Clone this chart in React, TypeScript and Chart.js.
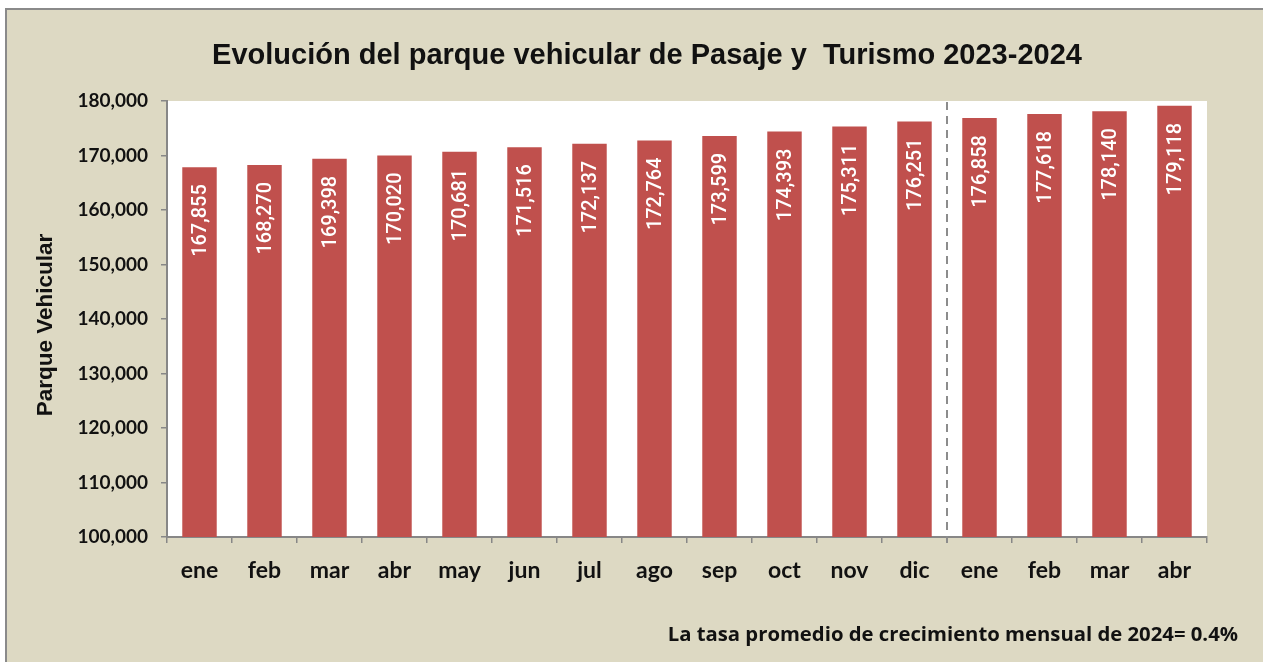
import React, { useEffect, useRef } from 'react';
import { Chart, registerables } from 'chart.js';

Chart.register(...registerables);

const categories = ['ene', 'feb', 'mar', 'abr', 'may', 'jun', 'jul', 'ago', 'sep', 'oct', 'nov', 'dic', 'ene', 'feb', 'mar', 'abr'];
const values = [167855, 168270, 169398, 170020, 170681, 171516, 172137, 172764, 173599, 174393, 175311, 176251, 176858, 177618, 178140, 179118];
const yMin = 100000;
const yMax = 180000;
const yStep = 10000;
const titleText = 'Evolución del parque vehicular de Pasaje y  Turismo 2023-2024';
const yAxisTitle = 'Parque Vehicular';
const footnote = 'La tasa promedio de crecimiento mensual de 2024= 0.4%';
const dividerIndex = 12;

const W = 1263;
const H = 662;
const BEIGE = '#DDD9C3';
const BAR = '#C0504D';
const AXIS = '#878787';

const LABEL_FONT = '500 20px Roboto, "Liberation Sans", sans-serif';
const TITLE_FONT = 'bold 29px "Liberation Sans", Arial, sans-serif';
const YTITLE_FONT = 'bold 22.5px "Liberation Sans", Arial, sans-serif';
const FOOT_FONT = 'bold 20.3px "Open Sans", Lato, sans-serif';

const fmt = (v: number) => v.toLocaleString('en-US');

export default function App() {
  const ref = useRef<HTMLCanvasElement | null>(null);

  useEffect(() => {
    const canvas = ref.current;
    if (!canvas) return;
    let chart: any = null;
    let cancelled = false;

    const decor = {
      id: 'decor',
      beforeDraw(c: any) {
        const { ctx, chartArea } = c;
        ctx.save();
        ctx.fillStyle = '#ffffff';
        ctx.fillRect(0, 0, W, H);
        ctx.fillStyle = BEIGE;
        ctx.fillRect(5, 8, W - 5, H - 8);
        ctx.strokeStyle = '#8a8a8a';
        ctx.lineWidth = 2;
        ctx.beginPath();
        ctx.moveTo(6, H);
        ctx.lineTo(6, 9);
        ctx.lineTo(W, 9);
        ctx.stroke();
        ctx.fillStyle = '#ffffff';
        ctx.fillRect(chartArea.left, chartArea.top, chartArea.right - chartArea.left, chartArea.bottom - chartArea.top);
        ctx.restore();
      },
      afterDatasetsDraw(c: any) {
        const { ctx, chartArea } = c;
        const meta = c.getDatasetMeta(0);
        ctx.save();
        ctx.fillStyle = '#ffffff';
        ctx.font = LABEL_FONT;
        ctx.textAlign = 'right';
        ctx.textBaseline = 'middle';
        meta.data.forEach((bar: any, i: number) => {
          ctx.save();
          ctx.translate(bar.x + 1, bar.y + 17);
          ctx.rotate(-Math.PI / 2);
          ctx.fillText(fmt(values[i]), 0, 0);
          ctx.restore();
        });
        const xs = c.scales.x;
        const xd = (xs.getPixelForValue(dividerIndex - 1) + xs.getPixelForValue(dividerIndex)) / 2;
        ctx.strokeStyle = '#8c8c8c';
        ctx.lineWidth = 2;
        ctx.setLineDash([8, 6]);
        ctx.beginPath();
        ctx.moveTo(xd, chartArea.top + 1);
        ctx.lineTo(xd, chartArea.bottom + 6);
        ctx.stroke();
        ctx.restore();
      },
      afterDraw(c: any) {
        const { ctx } = c;
        ctx.save();
        ctx.fillStyle = '#111111';
        ctx.font = TITLE_FONT;
        ctx.textAlign = 'center';
        ctx.textBaseline = 'alphabetic';
        ctx.fillText(titleText, 647, 64);

        ctx.save();
        ctx.translate(46, 325);
        ctx.rotate(-Math.PI / 2);
        ctx.font = YTITLE_FONT;
        ctx.textBaseline = 'middle';
        ctx.textAlign = 'center';
        ctx.fillText(yAxisTitle, 0, 0);
        ctx.restore();

        ctx.font = FOOT_FONT;
        ctx.textAlign = 'right';
        ctx.textBaseline = 'alphabetic';
        ctx.fillText(footnote, 1238, 641);
        ctx.restore();
      },
    };

    const build = () => {
      if (cancelled) return;
      chart = new Chart(canvas, {
        type: 'bar',
        data: {
          labels: categories,
          datasets: [
            {
              data: values,
              backgroundColor: BAR,
              borderWidth: 0,
              categoryPercentage: 1,
              barPercentage: 0.53,
            },
          ],
        },
        options: {
          responsive: false,
          animation: false,
          devicePixelRatio: 1,
          layout: { padding: { left: 0, right: 56, top: 101, bottom: 0 } },
          plugins: {
            legend: { display: false },
            title: { display: false },
            tooltip: { enabled: false },
          },
          scales: {
            x: {
              grid: {
                drawOnChartArea: false,
                drawTicks: true,
                tickLength: 6,
                color: AXIS,
                lineWidth: 1.5,
                offset: true,
              },
              border: { color: AXIS, width: 2 },
              ticks: {
                color: '#111111',
                font: { family: 'Lato, "Open Sans", sans-serif', size: 23, weight: 'bold' },
                padding: 14,
                maxRotation: 0,
                autoSkip: false,
              },
              afterFit(scale: any) {
                scale.height = 125;
              },
            },
            y: {
              min: yMin,
              max: yMax,
              grid: {
                drawOnChartArea: false,
                drawTicks: true,
                tickLength: 6,
                color: AXIS,
                lineWidth: 1.5,
              },
              border: { color: AXIS, width: 2 },
              ticks: {
                stepSize: yStep,
                color: '#111111',
                font: { family: 'Lato, "Open Sans", sans-serif', size: 19, weight: 'bold' },
                padding: 13,
                callback: (v: any) => fmt(Number(v)),
              },
              afterFit(scale: any) {
                scale.width = 167;
              },
            },
          },
        },
        plugins: [decor],
      });
    };

    const fonts = [LABEL_FONT, TITLE_FONT, YTITLE_FONT, FOOT_FONT, 'bold 23px Lato', 'bold 19px Lato'];
    const fs: any = (document as any).fonts;
    if (fs && fs.load) {
      Promise.all(fonts.map((f) => fs.load(f).catch(() => null))).then(build, build);
    } else {
      build();
    }

    return () => {
      cancelled = true;
      if (chart) chart.destroy();
    };
  }, []);

  return (
    <div style={{ position: 'absolute', left: 0, top: 0, width: W, height: H }}>
      <canvas ref={ref} width={W} height={H} style={{ display: 'block', width: W, height: H }} />
    </div>
  );
}
